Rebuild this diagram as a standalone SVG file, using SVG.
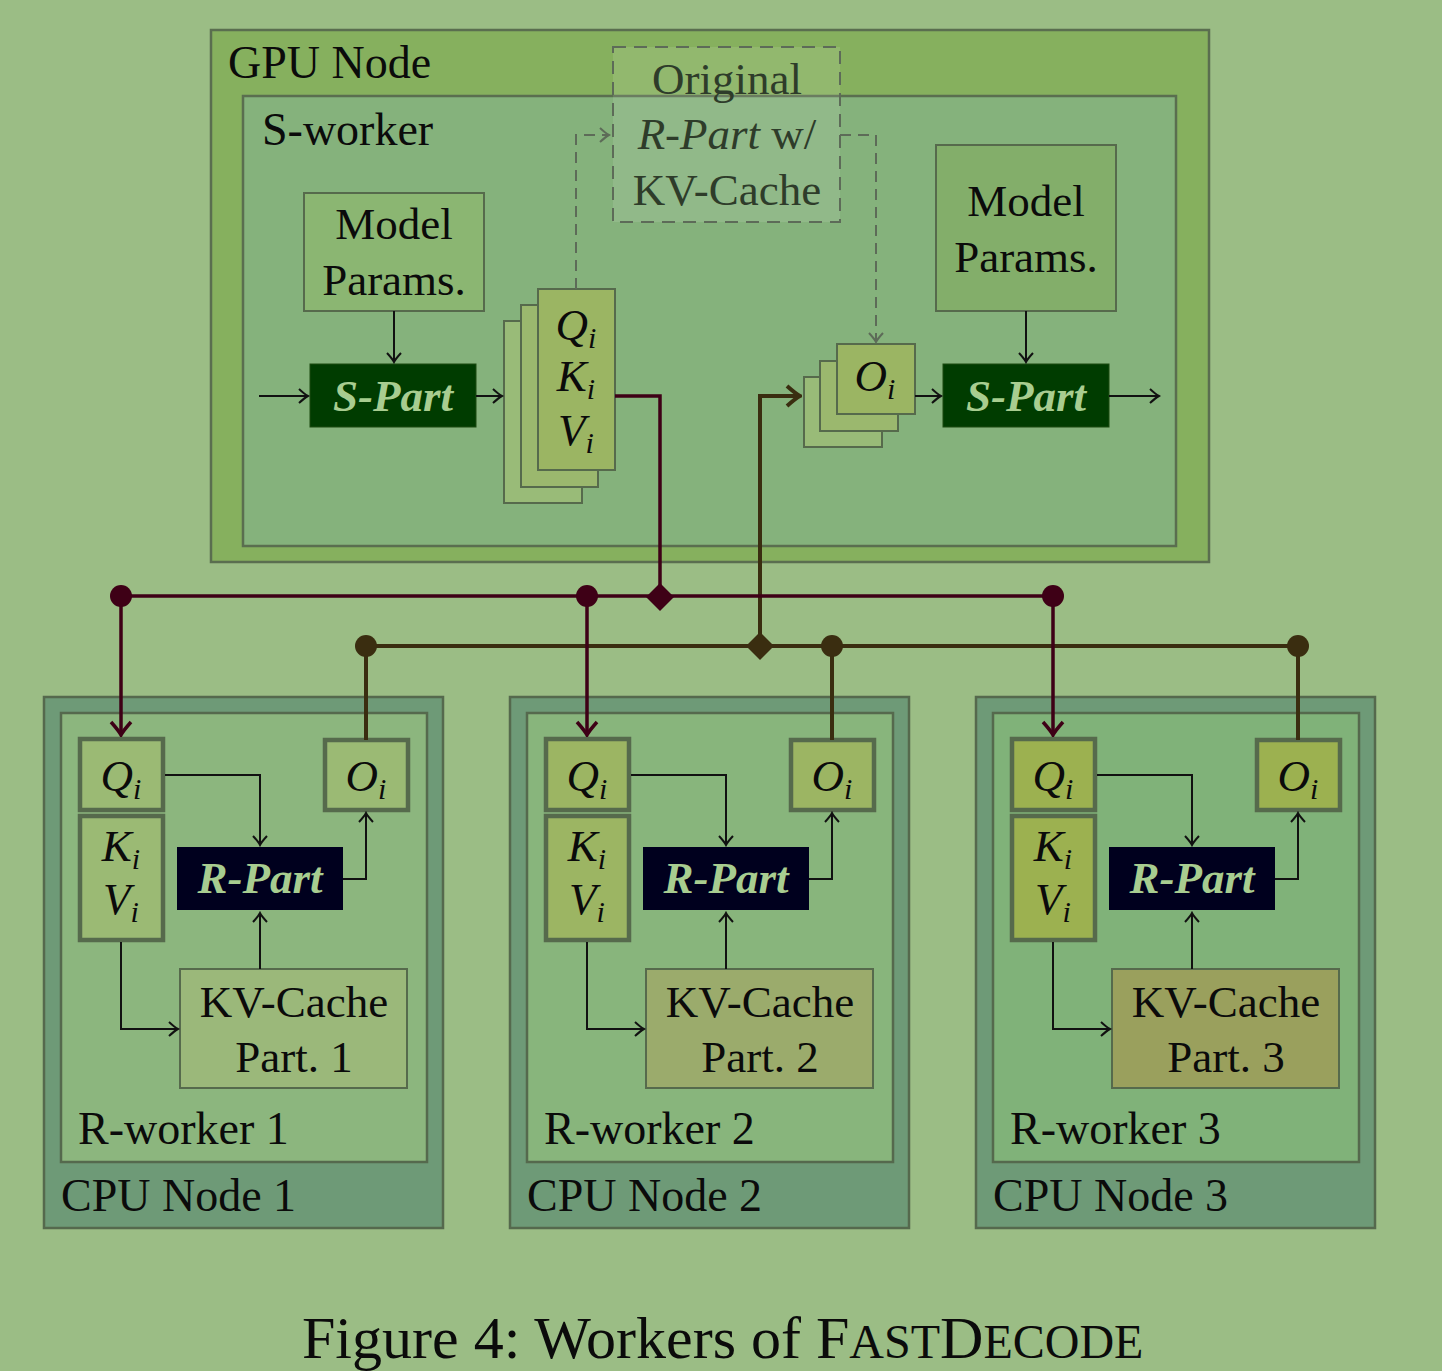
<svg xmlns="http://www.w3.org/2000/svg" width="1442" height="1371" viewBox="0 0 1442 1371">
<defs>
<style>
.t{font-family:"Liberation Serif","Times New Roman",serif;font-size:45px;fill:#0b0b0b}
.lb{font-size:46px}
.c{text-anchor:middle}
.it{font-style:italic}
.bi{font-style:italic;font-weight:bold;fill:#a8cd90}
.sub{font-size:30px;font-style:italic}
.box{stroke:#566a4c;stroke-width:2}
.thick{stroke:#566a4c;stroke-width:4.5}
.arr{fill:none;stroke:#111;stroke-width:2;marker-end:url(#ah)}
.dash{fill:none;stroke:#5d6b58;stroke-width:2;stroke-dasharray:11 7}
.mar{fill:none;stroke:#3e0016;stroke-width:3.5}
.brn{fill:none;stroke:#3a2d10;stroke-width:4}
</style>
<marker id="ah" markerUnits="userSpaceOnUse" viewBox="-12 -10 14 20" markerWidth="14" markerHeight="20" refX="0" refY="0" orient="auto">
<path d="M-9,-7 Q-3,-1.5 0,0 Q-3,1.5 -9,7" fill="none" stroke="#111" stroke-width="2"/>
</marker>
<marker id="ahd" markerUnits="userSpaceOnUse" viewBox="-12 -10 14 20" markerWidth="14" markerHeight="20" refX="0" refY="0" orient="auto">
<path d="M-9,-7 Q-3,-1.5 0,0 Q-3,1.5 -9,7" fill="none" stroke="#5d6b58" stroke-width="2"/>
</marker>
<marker id="ahm" markerUnits="userSpaceOnUse" viewBox="-17 -13 19 26" markerWidth="19" markerHeight="26" refX="0" refY="0" orient="auto">
<path d="M-13,-10 Q-4,-2 0,0 Q-4,2 -13,10" fill="none" stroke="#3e0016" stroke-width="3.5"/>
</marker>
<marker id="ahb" markerUnits="userSpaceOnUse" viewBox="-17 -13 19 26" markerWidth="19" markerHeight="26" refX="0" refY="0" orient="auto">
<path d="M-13,-10 Q-4,-2 0,0 Q-4,2 -13,10" fill="none" stroke="#3a2d10" stroke-width="4"/>
</marker>
</defs>

<rect x="0" y="0" width="1442" height="1371" fill="#9bbd85"/>

<!-- GPU node -->
<g id="gpu-node">
<rect x="211" y="30" width="998" height="532" fill="#86b05e" stroke="#5a6e4f" stroke-width="2.5"/>
<text class="t lb" x="228" y="78">GPU Node</text>
</g>
<g id="s-worker">
<rect x="243" y="96" width="933" height="450" fill="#85b27c" stroke="#5a6e4f" stroke-width="2.5"/>
<text class="t lb" x="262" y="145">S-worker</text>
</g>
<g id="model-params-1">
<rect class="box" x="304" y="193" width="180" height="118" fill="#8bb672"/>
<text class="t c" x="394" y="239">Model</text>
<text class="t c" x="394" y="295">Params.</text>
</g>
<g id="s-part-1">
<rect x="310" y="364" width="166" height="63" fill="#003c00" stroke="#1d4a10" stroke-width="1"/>
<text class="t c bi" x="393" y="411">S-Part</text>
</g>
<g id="qkv-stack">
<rect class="box" x="504" y="321" width="78" height="182" fill="#99bb78"/>
<rect class="box" x="521" y="305" width="77" height="182" fill="#9bb86e"/>
<rect class="box" x="538" y="289" width="77" height="181" fill="#9bb563"/>
<text class="t c" x="576" y="340"><tspan class="it">Q</tspan><tspan class="sub" dy="8">i</tspan></text>
<text class="t c" x="576" y="391"><tspan class="it">K</tspan><tspan class="sub" dy="8">i</tspan></text>
<text class="t c" x="576" y="445"><tspan class="it">V</tspan><tspan class="sub" dy="8">i</tspan></text>
</g>
<g id="original-r-part">
<rect x="613" y="47" width="227" height="175" fill="#ffffff" fill-opacity="0.1" stroke="#5d6b58" stroke-width="2" stroke-dasharray="13 8"/>
<text class="t c" x="727" y="94" style="fill:#2e3c2a">Original</text>
<text class="t c" x="727" y="149" style="fill:#2e3c2a"><tspan class="it">R-Part</tspan> w/</text>
<text class="t c" x="727" y="205" style="fill:#2e3c2a">KV-Cache</text>
</g>
<g id="o-stack">
<rect class="box" x="804" y="377" width="78" height="70" fill="#99bb78"/>
<rect class="box" x="820" y="361" width="78" height="70" fill="#9bb86e"/>
<rect class="box" x="837" y="344" width="78" height="70" fill="#9bb563"/>
<text class="t c" x="875" y="391"><tspan class="it">O</tspan><tspan class="sub" dy="8">i</tspan></text>
</g>
<g id="model-params-2">
<rect class="box" x="936" y="145" width="180" height="166" fill="#83ae6a"/>
<text class="t c" x="1026" y="216">Model</text>
<text class="t c" x="1026" y="272">Params.</text>
</g>
<g id="s-part-2">
<rect x="943" y="364" width="166" height="63" fill="#003c00" stroke="#1d4a10" stroke-width="1"/>
<text class="t c bi" x="1026" y="411">S-Part</text>
</g>

<!-- CPU node 1 -->
<g id="cpu-node-1">
<rect x="44" y="697" width="399" height="531" fill="#6e9a77" stroke="#55694d" stroke-width="2.5"/>
<text class="t lb" x="61" y="1211">CPU Node 1</text>
</g>
<g id="r-worker-1">
<rect x="61" y="713" width="366" height="449" fill="#8cb67e" stroke="#55694d" stroke-width="2.5"/>
<text class="t lb" x="78" y="1144">R-worker 1</text>
</g>
<g id="qi-1">
<rect class="thick" x="80" y="739" width="83" height="71" fill="#9bba74"/>
<text class="t c" x="121" y="791"><tspan class="it">Q</tspan><tspan class="sub" dy="8">i</tspan></text>
</g>
<g id="kv-1">
<rect class="thick" x="80" y="816" width="83" height="124" fill="#9bba74"/>
<text class="t c" x="121" y="861"><tspan class="it">K</tspan><tspan class="sub" dy="8">i</tspan></text>
<text class="t c" x="121" y="914"><tspan class="it">V</tspan><tspan class="sub" dy="8">i</tspan></text>
</g>
<g id="oi-1">
<rect class="thick" x="325" y="740" width="83" height="70" fill="#9bba74"/>
<text class="t c" x="366" y="791"><tspan class="it">O</tspan><tspan class="sub" dy="8">i</tspan></text>
</g>
<g id="r-part-1">
<rect x="177" y="847" width="166" height="63" fill="#00001e"/>
<text class="t c bi" x="260" y="893">R-Part</text>
</g>
<g id="kv-cache-1">
<rect class="box" x="180" y="969" width="227" height="119" fill="#9bb87a"/>
<text class="t c" x="294" y="1017">KV-Cache</text>
<text class="t c" x="294" y="1072">Part. 1</text>
</g>

<!-- CPU node 2 -->
<g id="cpu-node-2">
<rect x="510" y="697" width="399" height="531" fill="#6e9a77" stroke="#55694d" stroke-width="2.5"/>
<text class="t lb" x="527" y="1211">CPU Node 2</text>
</g>
<g id="r-worker-2">
<rect x="527" y="713" width="366" height="449" fill="#88b57c" stroke="#55694d" stroke-width="2.5"/>
<text class="t lb" x="544" y="1144">R-worker 2</text>
</g>
<g id="qi-2">
<rect class="thick" x="546" y="739" width="83" height="71" fill="#9cb563"/>
<text class="t c" x="587" y="791"><tspan class="it">Q</tspan><tspan class="sub" dy="8">i</tspan></text>
</g>
<g id="kv-2">
<rect class="thick" x="546" y="816" width="83" height="124" fill="#9cb563"/>
<text class="t c" x="587" y="861"><tspan class="it">K</tspan><tspan class="sub" dy="8">i</tspan></text>
<text class="t c" x="587" y="914"><tspan class="it">V</tspan><tspan class="sub" dy="8">i</tspan></text>
</g>
<g id="oi-2">
<rect class="thick" x="791" y="740" width="83" height="70" fill="#9cb563"/>
<text class="t c" x="832" y="791"><tspan class="it">O</tspan><tspan class="sub" dy="8">i</tspan></text>
</g>
<g id="r-part-2">
<rect x="643" y="847" width="166" height="63" fill="#00001e"/>
<text class="t c bi" x="726" y="893">R-Part</text>
</g>
<g id="kv-cache-2">
<rect class="box" x="646" y="969" width="227" height="119" fill="#9bab6c"/>
<text class="t c" x="760" y="1017">KV-Cache</text>
<text class="t c" x="760" y="1072">Part. 2</text>
</g>

<!-- CPU node 3 -->
<g id="cpu-node-3">
<rect x="976" y="697" width="399" height="531" fill="#6e9a77" stroke="#55694d" stroke-width="2.5"/>
<text class="t lb" x="993" y="1211">CPU Node 3</text>
</g>
<g id="r-worker-3">
<rect x="993" y="713" width="366" height="449" fill="#80b279" stroke="#55694d" stroke-width="2.5"/>
<text class="t lb" x="1010" y="1144">R-worker 3</text>
</g>
<g id="qi-3">
<rect class="thick" x="1012" y="739" width="83" height="71" fill="#9cb150"/>
<text class="t c" x="1053" y="791"><tspan class="it">Q</tspan><tspan class="sub" dy="8">i</tspan></text>
</g>
<g id="kv-3">
<rect class="thick" x="1012" y="816" width="83" height="124" fill="#9cb150"/>
<text class="t c" x="1053" y="861"><tspan class="it">K</tspan><tspan class="sub" dy="8">i</tspan></text>
<text class="t c" x="1053" y="914"><tspan class="it">V</tspan><tspan class="sub" dy="8">i</tspan></text>
</g>
<g id="oi-3">
<rect class="thick" x="1257" y="740" width="83" height="70" fill="#9cb150"/>
<text class="t c" x="1298" y="791"><tspan class="it">O</tspan><tspan class="sub" dy="8">i</tspan></text>
</g>
<g id="r-part-3">
<rect x="1109" y="847" width="166" height="63" fill="#00001e"/>
<text class="t c bi" x="1192" y="893">R-Part</text>
</g>
<g id="kv-cache-3">
<rect class="box" x="1112" y="969" width="227" height="119" fill="#9aa05d"/>
<text class="t c" x="1226" y="1017">KV-Cache</text>
<text class="t c" x="1226" y="1072">Part. 3</text>
</g>

<!-- connectors -->
<g id="connectors">
<path class="arr" d="M259,396 H308"/>
<path class="arr" d="M394,311 V362"/>
<path class="arr" d="M476,396 H502"/>
<path class="dash" d="M576,289 V135 H609" marker-end="url(#ahd)"/>
<path class="dash" d="M840,135 H876 V342" marker-end="url(#ahd)"/>
<path class="arr" d="M915,396 H941"/>
<path class="arr" d="M1026,311 V362"/>
<path class="arr" d="M1109,396 H1159"/>

<path class="brn" d="M366,646 H1298"/>
<path class="brn" d="M760,646 V396 H800" marker-end="url(#ahb)"/>
<path class="brn" d="M366,646 V740"/>
<path class="brn" d="M832,646 V740"/>
<path class="brn" d="M1298,646 V740"/>
<circle cx="366" cy="646" r="11" fill="#3a2d10"/>
<circle cx="832" cy="646" r="11" fill="#3a2d10"/>
<circle cx="1298" cy="646" r="11" fill="#3a2d10"/>
<path d="M760,632 L774,646 L760,660 L746,646 Z" fill="#3a2d10"/>

<path class="mar" d="M615,396 H660 V597"/>
<path class="mar" d="M121,596 H1053"/>
<path class="mar" d="M121,596 V735" marker-end="url(#ahm)"/>
<path class="mar" d="M587,596 V735" marker-end="url(#ahm)"/>
<path class="mar" d="M1053,596 V735" marker-end="url(#ahm)"/>
<circle cx="121" cy="596" r="11" fill="#3e0016"/>
<circle cx="587" cy="596" r="11" fill="#3e0016"/>
<circle cx="1053" cy="596" r="11" fill="#3e0016"/>
<path d="M660,583 L674,597 L660,611 L646,597 Z" fill="#3e0016"/>

<path class="arr" d="M165,775 H260 V845"/>
<path class="arr" d="M343,879 H366 V813"/>
<path class="arr" d="M260,969 V913"/>
<path class="arr" d="M121,942 V1029 H178"/>
<path class="arr" d="M631,775 H726 V845"/>
<path class="arr" d="M809,879 H832 V813"/>
<path class="arr" d="M726,969 V913"/>
<path class="arr" d="M587,942 V1029 H644"/>
<path class="arr" d="M1097,775 H1192 V845"/>
<path class="arr" d="M1275,879 H1298 V813"/>
<path class="arr" d="M1192,969 V913"/>
<path class="arr" d="M1053,942 V1029 H1110"/>
</g>

<text class="t" x="302" y="1358" style="font-size:60px">Figure 4: Workers of F<tspan style="font-size:48px">AST</tspan>D<tspan style="font-size:48px">ECODE</tspan></text>
</svg>
